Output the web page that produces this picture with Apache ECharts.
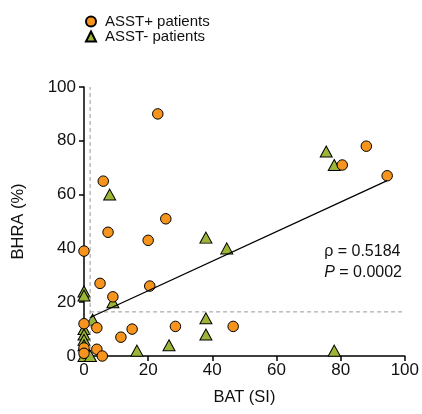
<!DOCTYPE html>
<html>
<head>
<meta charset="utf-8">
<script src="https://cdn.jsdelivr.net/npm/echarts@6/dist/echarts.min.js"></script>
<style>
  html, body { margin: 0; padding: 0; background: #fff; }
  #container { width: 422px; height: 414px; }
</style>
</head>
<body>
<div id="container"></div>
<script>
// ASST+ patients (orange circles): [BAT (SI), BHRA (%)]
var asstPos = [
    [23, 90], [88, 78], [80.5, 71], [94.5, 67], [6, 65], [25.5, 51], [7.5, 46],
    [20, 43], [0, 39], [5, 27], [20.5, 26], [9, 22], [0, 12], [4, 10.5],
    [46.5, 11], [28.5, 11], [15, 10], [11.5, 7], [0, 3], [0, 1], [4, 2.5], [5.7, 0]
];
// ASST- patients (green triangles)
var asstNeg = [
    [75.5, 76], [78, 71], [8, 60], [38, 44], [44.5, 40], [0, 24], [0, 22.5],
    [9, 20], [2.7, 13.5], [38, 14], [0, 10], [38, 8], [0, 8], [0, 6], [0, 4],
    [26.5, 4], [16.5, 2], [78, 2], [0, 0], [2, 0]
];
// regression line end points
var fitLine = [[1.9, 14.3], [94.5, 65.2]];
// cut-off thresholds
var batCut = 1.9;
var bhraCut = 16.4;

var dom = document.getElementById('container');
var myChart = echarts.init(dom);
var font = 'Liberation Sans, Arial, Helvetica, sans-serif';

var option = {
    animation: false,
    textStyle: { fontFamily: font },
    legend: {
        orient: 'vertical',
        left: 80,
        top: 9,
        itemWidth: 10,
        itemHeight: 10,
        itemGap: 0,
        textStyle: { fontSize: 15, lineHeight: 15, color: '#111', fontFamily: font, padding: [0, 0, 0, 4] },
        data: ['ASST+ patients', 'ASST- patients']
    },
    grid: { left: 84, right: 16, top: 87, bottom: 58 },
    xAxis: {
        type: 'value',
        min: 0, max: 100, interval: 20,
        name: 'BAT (SI)',
        nameLocation: 'middle',
        nameGap: 33,
        nameTextStyle: { fontSize: 16.5, color: '#111' },
        splitLine: { show: false },
        axisLine: { lineStyle: { color: '#000', width: 1.5 } },
        axisTick: { length: 5, lineStyle: { color: '#000', width: 1.5 } },
        axisLabel: { fontSize: 17, color: '#111', margin: 6 }
    },
    yAxis: {
        type: 'value',
        min: 0, max: 100, interval: 20,
        name: 'BHRA (%)',
        nameLocation: 'middle',
        nameGap: 57,
        nameTextStyle: { fontSize: 16.5, color: '#111' },
        splitLine: { show: false },
        axisLine: { lineStyle: { color: '#000', width: 1.5 } },
        axisTick: { length: 5, lineStyle: { color: '#000', width: 1.5 } },
        axisLabel: { fontSize: 17, color: '#111', margin: 8 }
    },
    graphic: [{
        type: 'text',
        right: 20,
        top: 241,
        style: {
            text: 'ρ = 0.5184\n{i|P} = 0.0002',
            font: '16px ' + font,
            fill: '#111',
            align: 'right',
            lineHeight: 21,
            rich: { i: { fontStyle: 'italic', fontSize: 16, fontFamily: font } }
        }
    }],
    series: [
        {
            name: 'thresholds',
            type: 'line',
            symbol: 'none',
            silent: true,
            lineStyle: { color: '#999', width: 1, type: [4, 3] },
            data: [[batCut, 0], [batCut, 100]]
        },
        {
            name: 'thresholds2',
            type: 'line',
            symbol: 'none',
            silent: true,
            lineStyle: { color: '#999', width: 1, type: [4, 3] },
            data: [[batCut, bhraCut], [100, bhraCut]]
        },
        {
            name: 'fit',
            type: 'line',
            symbol: 'none',
            silent: true,
            lineStyle: { color: '#000', width: 1.3 },
            data: fitLine
        },
        {
            name: 'ASST- patients',
            type: 'scatter',
            symbol: 'triangle',
            symbolSize: [12, 11],
            clip: false,
            itemStyle: { color: '#9BB537', borderColor: '#000', borderWidth: 1, opacity: 1 },
            data: asstNeg
        },
        {
            name: 'ASST+ patients',
            type: 'scatter',
            symbol: 'circle',
            symbolSize: 10.5,
            clip: false,
            itemStyle: { color: '#F7941D', borderColor: '#000', borderWidth: 1, opacity: 1 },
            data: asstPos
        }
    ]
};
if (option && typeof option === 'object') {
    myChart.setOption(option, true);
}
</script>
</body>
</html>
